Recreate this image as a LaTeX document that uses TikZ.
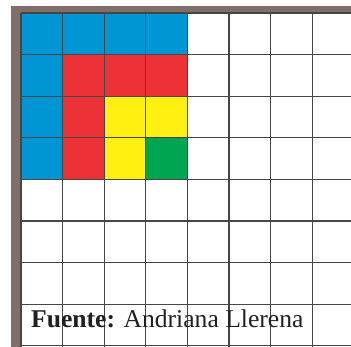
\documentclass[tikz,border=0pt]{standalone}
\usepackage{fontspec}
\setmainfont{Liberation Serif}
\usepackage{tikz}
\definecolor{cellBlue}{RGB}{0,150,214}
\definecolor{cellRed}{RGB}{237,50,55}
\definecolor{cellYellow}{RGB}{255,240,18}
\definecolor{cellGreen}{RGB}{0,165,82}
\definecolor{frameBrown}{RGB}{128,110,104}
\definecolor{lineGray}{RGB}{70,70,70}
\definecolor{textDark}{RGB}{35,31,32}
\tikzset{
  gridline/.style={draw=lineGray,line width=1.3pt},
  source/.style={anchor=base west,text=textDark,inner sep=0pt,
    font=\fontsize{25.6}{29}\selectfont}
}
\begin{document}
\begin{tikzpicture}[x=1pt,y=-1pt]
  \useasboundingbox (0,0) rectangle (351,347);
  \clip (0,0) rectangle (351,347);
  \fill[white] (0,0) rectangle (351,347);
  % marco
  \fill[frameBrown] (11,6) rectangle (351,13);
  \fill[frameBrown] (11,6) rectangle (21,347);
  % celdas de color
  \foreach \c/\r/\col in {0/0/cellBlue,1/0/cellBlue,2/0/cellBlue,3/0/cellBlue,
      0/1/cellBlue,1/1/cellRed,2/1/cellRed,3/1/cellRed,
      0/2/cellBlue,1/2/cellRed,2/2/cellYellow,3/2/cellYellow,
      0/3/cellBlue,1/3/cellRed,2/3/cellYellow,3/3/cellGreen}
    \fill[\col] ({21+41.6*\c},{13+41.6*\r}) rectangle +(41.6,41.6);
  % cuadricula
  \foreach \i in {0,...,8} {
    \draw[gridline] ({21+41.6*\i},13) -- ({21+41.6*\i},347);
    \draw[gridline] (21,{13+41.6*\i}) -- (351,{13+41.6*\i});
  }
  \node[source] (fuente) at (31,328) {\textbf{Fuente:} Andriana Llerena};
\end{tikzpicture}
\end{document}
